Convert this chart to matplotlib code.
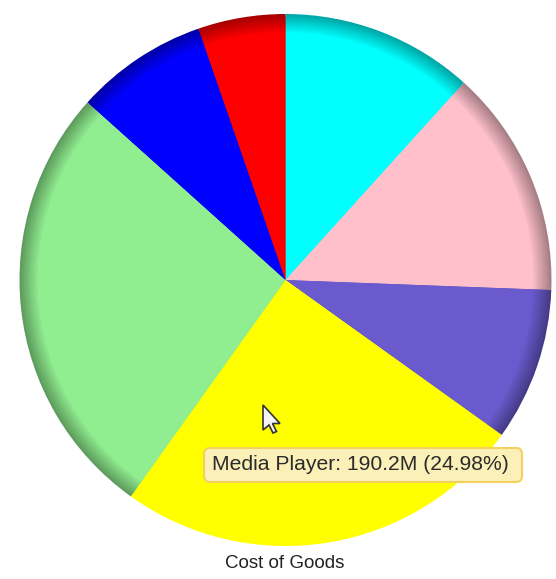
import matplotlib.pyplot as plt
from matplotlib.patches import FancyBboxPatch, Polygon
import matplotlib.colors as mcolors

plt.rcParams['font.family'] = ['Liberation Sans', 'DejaVu Sans']

# values in millions, clockwise from 12 o'clock
values = [89.1, 105.8, 70.8, 190.2, 203.8, 61.3, 40.4]
colors = ['#00FFFF', '#FFC0CB', '#6A5ACD', '#FFFF00', '#90EE90', '#0000FF', '#FF0000']
shaded = [True, True, True, False, True, True, True]  # hovered slice has no rim
tip_label = 'Media Player'
tip_index = 3
title = 'Cost of Goods'

W, H = 556, 579
fig = plt.figure(figsize=(W / 100, H / 100), dpi=100)
ax = fig.add_axes([0, 0, 1, 1])
ax.set_xlim(0, W)
ax.set_ylim(0, H)
ax.set_aspect('equal')
ax.axis('off')

cx, cy, R = 285.5, H - 280, 266

# shaded rim: stacked full pies, darkest (outermost) first
steps = 8
rim = 18
for k in range(steps + 1):
    r = R - k * rim / steps
    f = 0.66 + 0.34 * k / steps
    cols = []
    for c, s in zip(colors, shaded):
        rgb = mcolors.to_rgb(c)
        cols.append(tuple(v * f for v in rgb) if s else rgb)
    if k == steps:
        cols = colors
    ax.pie(values, colors=cols, startangle=90, counterclock=False,
           center=(cx, cy), radius=r, wedgeprops=dict(linewidth=0))

ax.set_xlim(0, W)
ax.set_ylim(0, H)

# mouse cursor
tx, ty = 263, H - 405
shape = [(0, 0), (0, -25), (6, -20), (10, -28), (13.5, -26.5), (9.5, -18.5), (17, -18.5)]
ax.add_patch(Polygon([(tx + a, ty + b) for a, b in shape], closed=True,
                     facecolor='#f4f4f4', edgecolor='#333333', linewidth=1.2, zorder=5))

# tooltip
total = sum(values)
pct = values[tip_index] / total * 100
box = FancyBboxPatch((204, H - 482), 318, 34, boxstyle='round,pad=0,rounding_size=6',
                     facecolor='#FBF0B8', edgecolor='#F2D15C', linewidth=1.5, zorder=6)
ax.add_patch(box)
ax.text(360, H - 465, f'{tip_label}: {values[tip_index]:.1f}M ({pct:.2f}%)',
        ha='center', va='center', fontsize=15.2, color='#2b2b2b', zorder=7)

ax.text(285, H - 563, title, ha='center', va='center', fontsize=13.5, color='#222222')

fig.savefig('out.png', dpi=100, facecolor='white')
